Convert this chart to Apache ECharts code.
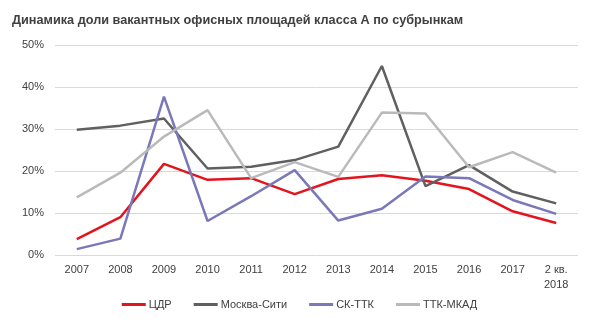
<!DOCTYPE html>
<html><head><meta charset="utf-8">
<script src="https://cdn.jsdelivr.net/npm/echarts@6/dist/echarts.min.js"></script>
<style>html,body{margin:0;padding:0;background:#fff}#c{width:599px;height:326px}</style>
</head><body><div id="c"></div>
<script>
const categories = ['2007','2008','2009','2010','2011','2012','2013','2014','2015','2016','2017','2 кв.\n2018'];
const cdr = [3.8, 9.0, 21.7, 17.9, 18.3, 14.5, 18.1, 19.0, 17.7, 15.7, 10.4, 7.6];
const moscowCity = [29.8, 30.8, 32.5, 20.6, 21.0, 22.6, 25.8, 45.0, 16.4, 21.4, 15.1, 12.3];
const skTtk = [1.4, 3.9, 37.7, 8.1, 14.0, 20.2, 8.2, 11.0, 18.7, 18.3, 13.1, 9.8];
const ttkMkad = [13.7, 19.6, 28.2, 34.5, 18.3, 22.1, 18.6, 33.9, 33.7, 20.9, 24.5, 19.6];
const seriesNames = ['ЦДР','Москва-Сити','СК-ТТК','ТТК-МКАД'];
const colors = ['#e3141e','#606060','#7a78b8','#bababa'];
const yTicks = [0, 10, 20, 30, 40, 50];

const chart = echarts.init(document.getElementById('c'));
const font = 'Arial, "Liberation Sans", sans-serif';
const data = [cdr, moscowCity, skTtk, ttkMkad];
chart.setOption({
  animation: false,
  title: {
    text: 'Динамика доли вакантных офисных площадей класса А по субрынкам',
    left: 7, top: 9,
    textStyle: {fontFamily: font, fontSize: 12.7, fontWeight: 'bold', color: '#404040'}
  },
  legend: {
    data: seriesNames,
    bottom: 11, left: 'center',
    itemWidth: 24, itemHeight: 3, itemGap: 22,
    icon: 'rect',
    textStyle: {fontFamily: font, fontSize: 11, color: '#404040', padding: [0,0,0,-2]}
  },
  grid: {left: 55, right: 21, top: 45, bottom: 71, containLabel: false},
  xAxis: {
    type: 'category', data: categories, boundaryGap: true,
    axisLine: {show: false}, axisTick: {show: false},
    axisLabel: {fontFamily: font, fontSize: 11, color: '#404040', margin: 7, lineHeight: 15, verticalAlign: 'top'}
  },
  yAxis: {
    type: 'value', min: 0, max: 50, interval: 10,
    axisLabel: {formatter: v => yTicks.includes(v) ? v + '%' : '', fontFamily: font, fontSize: 11, color: '#404040', margin: 11},
    splitLine: {lineStyle: {color: '#d9d9d9', width: 1}},
    axisLine: {show: false}, axisTick: {show: false}
  },
  series: seriesNames.map((n, i) => ({
    name: n, type: 'line', data: data[i], showSymbol: false, symbol: 'none',
    lineStyle: {color: colors[i], width: 2.5}, itemStyle: {color: colors[i]}
  }))
});
</script></body></html>
